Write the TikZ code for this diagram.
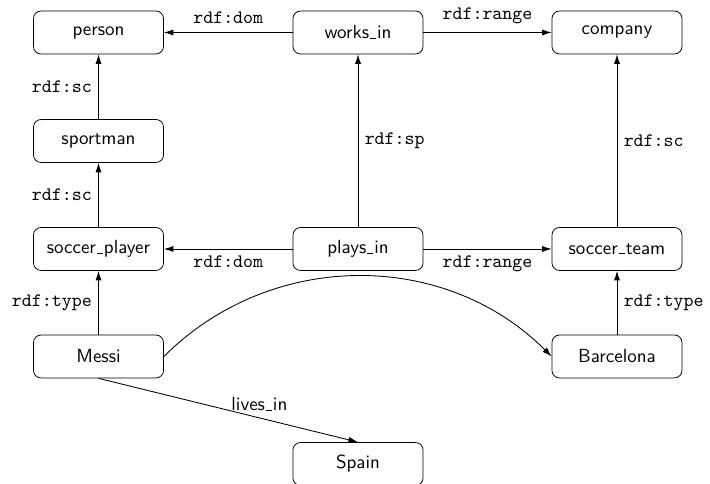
\documentclass[tikz,border=0pt]{standalone}
\usetikzlibrary{arrows.meta}
\newcommand{\usc}{\leavevmode\kern.06em\vbox{\hrule width.3em height .6pt}\kern.06em}
\begin{document}
\begin{tikzpicture}[x=0.526pt,y=-0.526pt,
  box/.style={draw,rounded corners=4pt,minimum width=68.4pt,minimum height=22.6pt,inner sep=0pt,font=\sffamily},
  arr/.style={-{Latex[length=5pt,width=3.2pt]},line width=0.45pt},
  lab/.style={font=\ttfamily}]
\useasboundingbox (0,0) rectangle (710,484);
\node[box] (person) at (98.5,32.5) {person};
\node[box] (works) at (358,32.5) {works\usc in};
\node[box] (company) at (617,32.5) {company};
\node[box] (sportman) at (98.5,141) {sportman};
\node[box] (splayer) at (98.5,249) {soccer\usc player};
\node[box] (plays) at (358,249) {plays\usc in};
\node[box] (steam) at (617,249) {soccer\usc team};
\node[box] (messi) at (98.5,356.5) {Messi};
\node[box] (barca) at (617,356.5) {Barcelona};
\node[box] (spain) at (358,464) {Spain};
\draw[arr] (works) -- node[lab,above,yshift=1pt] {rdf:dom} (person);
\draw[arr] (works) -- node[lab,above,yshift=1pt] {rdf:range} (company);
\draw[arr] (sportman) -- node[lab,left] {rdf:sc} (person);
\draw[arr] (splayer) -- node[lab,left] {rdf:sc} (sportman);
\draw[arr] (plays) -- node[lab,right] {rdf:sp} (works);
\draw[arr] (steam) -- node[lab,right] {rdf:sc} (company);
\draw[arr] (plays) -- node[lab,below] {rdf:dom} (splayer);
\draw[arr] (plays) -- node[lab,below] {rdf:range} (steam);
\draw[arr] (messi) -- node[lab,left] {rdf:type} (splayer);
\draw[arr] (barca) -- node[lab,right] {rdf:type} (steam);
\draw[arr] (messi.east) to[bend left=45] (barca.west);
\draw[arr] (messi.south) -- node[pos=0.62,above,font=\sffamily] {lives\usc in} (spain.north);
\end{tikzpicture}
\end{document}
